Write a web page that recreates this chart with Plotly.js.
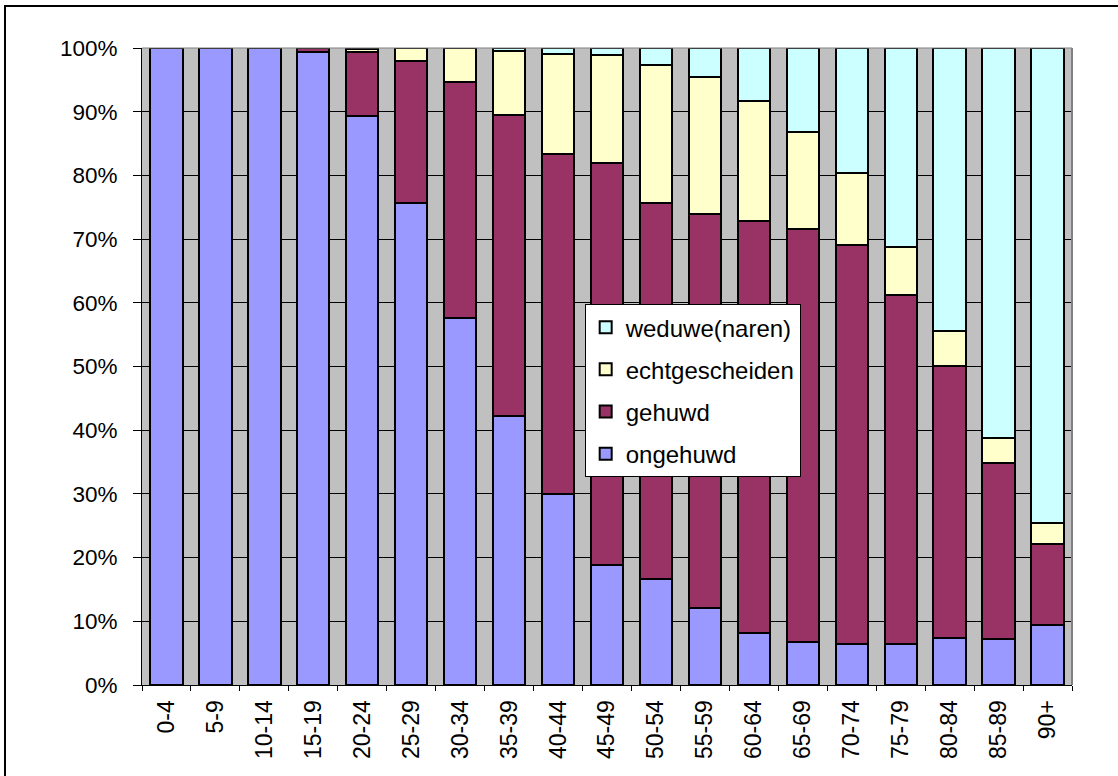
<!DOCTYPE html>
<html>
<head>
<meta charset="utf-8">
<script src="https://cdn.plot.ly/plotly-3.0.1.min.js"></script>
<style>
  html, body { margin: 0; padding: 0; background: #fff; overflow: hidden; width: 1118px; height: 776px; }
  #chart { position: absolute; left: 0; top: 0; width: 1118px; height: 776px; }
  #frame { position: absolute; left: 4px; top: 5px; width: 1114px; height: 771px; box-sizing: border-box;
           border-left: 2px solid #000; border-top: 2px solid #000; pointer-events: none; }
</style>
</head>
<body>
<div id="chart"></div>
<div id="frame"></div>
<script>
const categories = ['0-4','5-9','10-14','15-19','20-24','25-29','30-34','35-39','40-44','45-49',
                    '50-54','55-59','60-64','65-69','70-74','75-79','80-84','85-89','90+'];
const ongehuwd       = [100, 100, 100, 99.3, 89.3, 75.7, 57.6, 42.2, 30.0, 18.8, 16.6, 12.1, 8.1, 6.8, 6.5, 6.5, 7.4, 7.2, 9.4];
const gehuwd         = [0, 0, 0, 0.7, 10.0, 22.3, 37.0, 47.3, 53.3, 63.2, 59.1, 61.8, 64.8, 64.8, 62.6, 54.8, 42.7, 27.6, 12.8];
const echtgescheiden = [0, 0, 0, 0, 0.5, 2.0, 5.4, 10.1, 15.7, 16.9, 21.7, 21.6, 18.8, 15.2, 11.3, 7.5, 5.4, 3.9, 3.2];
const weduwe         = [0, 0, 0, 0, 0.2, 0, 0, 0.4, 1.0, 1.1, 2.6, 4.5, 8.3, 13.2, 19.6, 31.2, 44.5, 61.3, 74.6];
const yTicks = [0, 10, 20, 30, 40, 50, 60, 70, 80, 90, 100];

const series = [
  {name: 'ongehuwd', y: ongehuwd, color: '#9999FF', rank: 4},
  {name: 'gehuwd', y: gehuwd, color: '#993366', rank: 3},
  {name: 'echtgescheiden', y: echtgescheiden, color: '#FFFFCC', rank: 2},
  {name: 'weduwe(naren)', y: weduwe, color: '#CCFFFF', rank: 1}
];

const traces = series.map(s => ({
  type: 'bar',
  name: s.name,
  x: categories,
  y: s.y,
  legendgroup: s.name,
  legendrank: s.rank,
  marker: {color: s.color, line: {color: '#000', width: 2}},
  hoverinfo: 'x+y+name'
}));

const font = 'Arial, "Liberation Sans", sans-serif';

const layout = {
  width: 1118,
  height: 776,
  margin: {l: 142, r: 46, t: 48, b: 91, pad: 0},
  paper_bgcolor: '#ffffff',
  plot_bgcolor: '#C0C0C0',
  barmode: 'stack',
  bargap: 0.34,
  showlegend: true,
  legend: {
    x: 0.476, y: 0.598, xanchor: 'left', yanchor: 'top',
    bgcolor: '#ffffff', bordercolor: '#000', borderwidth: 1,
    traceorder: 'grouped', tracegroupgap: 8,
    font: {family: font, size: 24, color: '#000'},
    itemwidth: 30
  },
  xaxis: {
    type: 'category',
    tickangle: -90,
    tickfont: {family: font, size: 23, color: '#000'},
    ticks: 'outside', ticklen: 5, tickcolor: '#000', tickwidth: 1,
    tickson: 'boundaries',
    showline: true, linecolor: '#000', linewidth: 1,
    showgrid: false, zeroline: false,
    ticklabelstandoff: 5
  },
  yaxis: {
    range: [0, 100],
    tickvals: yTicks,
    ticktext: yTicks.map(v => v + '%'),
    tickfont: {family: font, size: 22.5, color: '#000'},
    ticks: 'outside', ticklen: 8, tickcolor: '#000', tickwidth: 1,
    showline: true, linecolor: '#000', linewidth: 1,
    showgrid: true, gridcolor: '#000', gridwidth: 1,
    zeroline: false,
    ticklabelstandoff: 11
  },
  shapes: [
    {type: 'line', xref: 'paper', yref: 'paper', x0: 1, x1: 1, y0: 0, y1: 1,
     line: {color: '#808080', width: 2}},
    {type: 'line', xref: 'paper', yref: 'paper', x0: 0, x1: 1, y0: 1, y1: 1,
     line: {color: '#808080', width: 1}}
  ]
};

Plotly.newPlot('chart', traces, layout, {displayModeBar: false, staticPlot: true});
</script>
</body>
</html>
